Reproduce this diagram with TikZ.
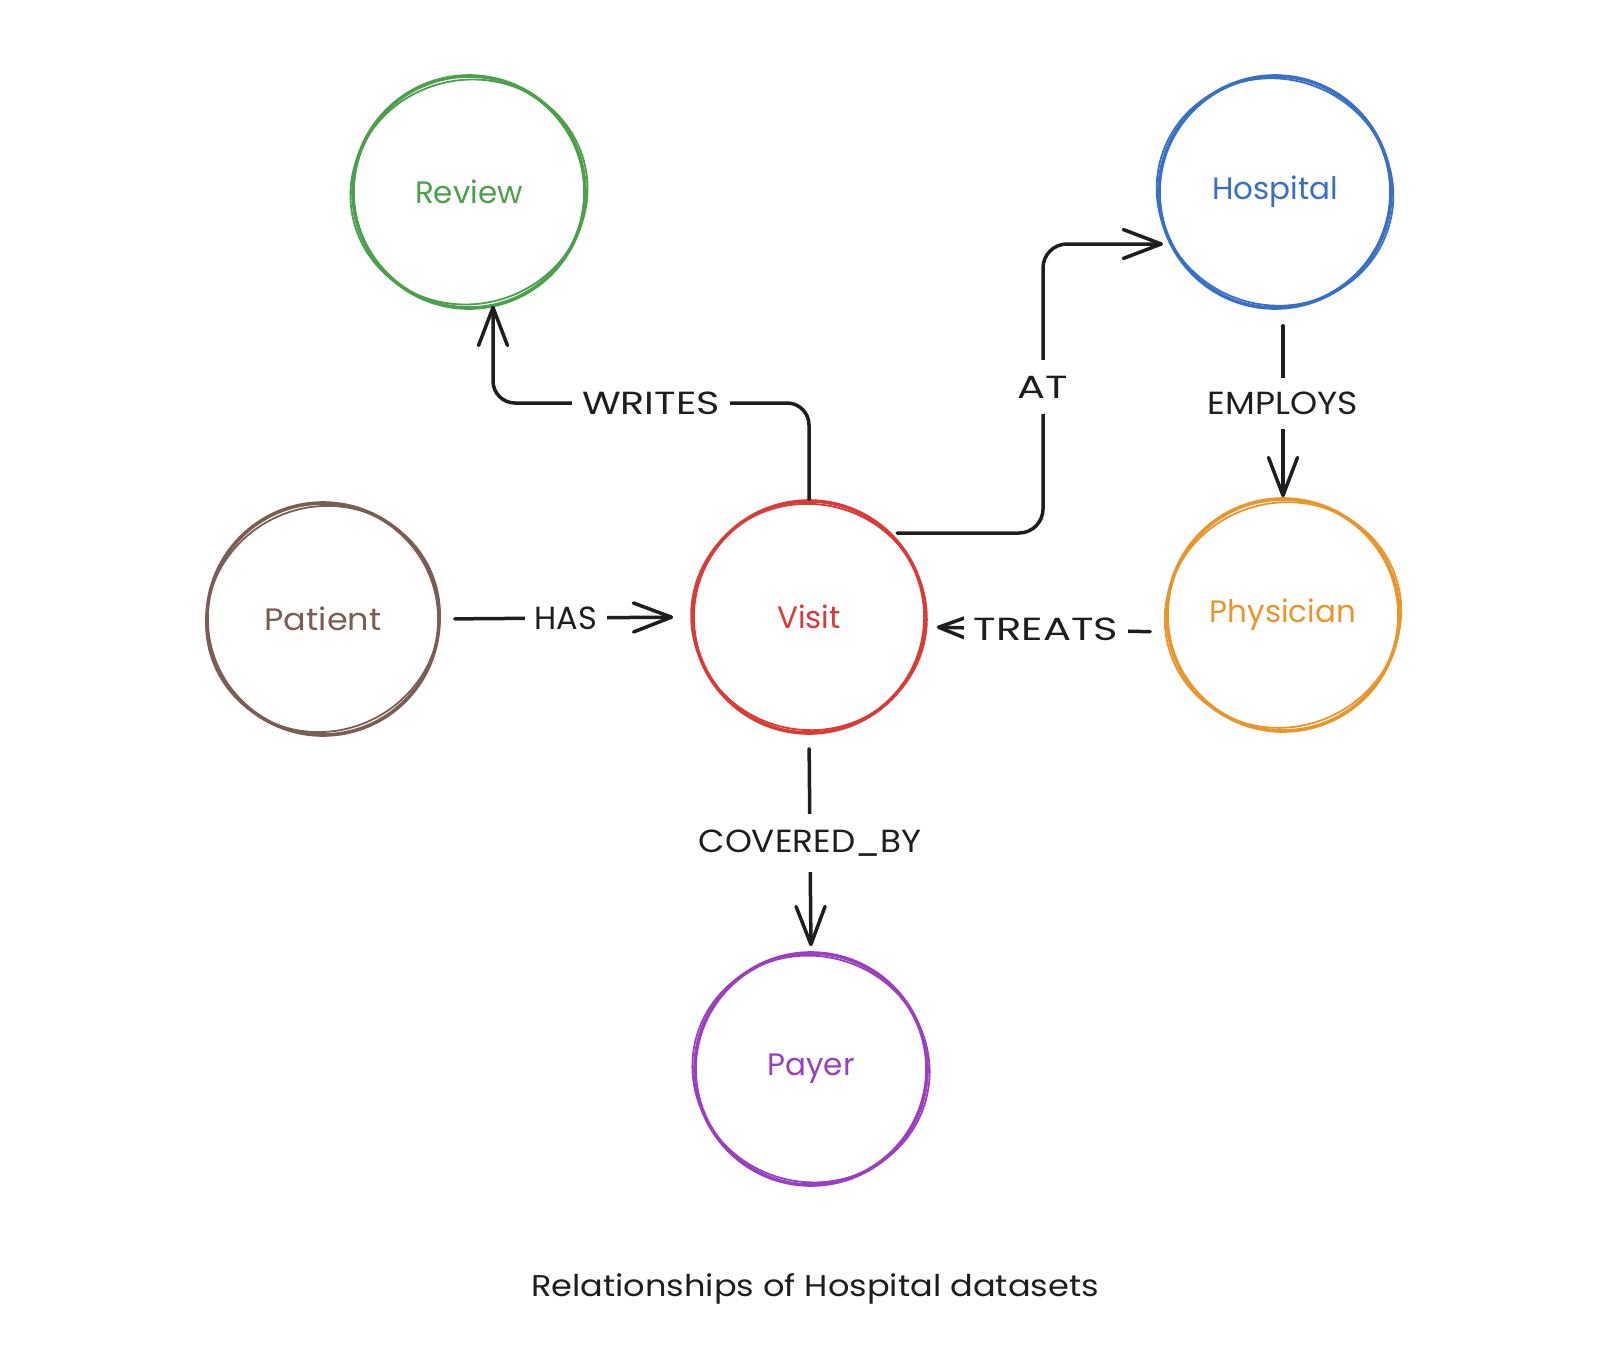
\documentclass[tikz,border=0pt]{standalone}
\usepackage{fontspec}
\setmainfont{Poppins}
\usetikzlibrary{arrows.meta,calc}
\definecolor{cgreen}{HTML}{4C9F4C}
\definecolor{cblue}{HTML}{3A70C4}
\definecolor{cbrown}{HTML}{7A5D54}
\definecolor{cred}{HTML}{D93B36}
\definecolor{corange}{HTML}{E8952C}
\definecolor{cpurple}{HTML}{9A3FC0}
\definecolor{ink}{HTML}{1E1E1E}
\begin{document}
\begin{tikzpicture}[x=1pt,y=-1pt,
  ent/.style={circle, draw=#1, text=#1, line width=3.6pt, minimum size=232pt, inner sep=0pt, font=\fontsize{31}{31}\selectfont},
  sk/.style={draw=#1, line width=1.8pt},
  conn/.style={draw=ink, line width=3.5pt, line cap=round, line join=round, -{Straight Barb[length=38pt,width=29pt,round]}},
  lbl/.style={fill=white, text=ink, inner xsep=10pt, inner ysep=9pt, font=\fontsize{32}{32}\selectfont},
]
\useasboundingbox (0,0) rectangle (1604,1358);
\fill[white] (0,0) rectangle (1604,1358);

% entities
\node[ent=cgreen]  (review)    at (469,192)  {Review};
\node[ent=cblue]   (hospital)  at (1275,192) {Hospital};
\node[ent=cbrown]  (patient)   at (323,619)  {\scalebox{1.08}[1]{Patient}};
\node[ent=cred]    (visit)     at (809,617)  {Visit};
\node[ent=corange] (physician) at (1283,615) {Physician};
\node[ent=cpurple] (payer)     at (811,1069) {Payer};

% sketchy second strokes
\draw[sk=cgreen,  shift={(review.center)},    rotate=15]  (0,0) ellipse (119 and 112);
\draw[sk=cblue,   shift={(hospital.center)},  rotate=-20] (0,0) ellipse (119 and 113);
\draw[sk=cbrown,  shift={(patient.center)},   rotate=25]  (0,0) ellipse (118 and 112);
\draw[sk=cred,    shift={(visit.center)},     rotate=-10] (0,0) ellipse (118 and 113);
\draw[sk=corange, shift={(physician.center)}, rotate=20]  (0,0) ellipse (119 and 112);
\draw[sk=cpurple, shift={(payer.center)},     rotate=-15] (0,0) ellipse (119 and 113);

% WRITES
\coordinate (w1) at (493,403);
\draw[conn, rounded corners=22pt, shorten >=-4pt] (visit.north) |- (w1) -- (review.south -| w1);
\node[lbl] (writes) at (651,403) {\scalebox{1.24}[1]{WRITES}};

% AT
\coordinate (a0) at (897,533);
\coordinate (a1) at (1043,244);
\coordinate (a2) at (1163,244);
\draw[conn, rounded corners=24pt] (a0) -| (a1) -- (a2);
\node[lbl, inner ysep=16pt] (at) at (1043,387) {\scalebox{1.3}[1]{AT}};

% EMPLOYS
\draw[conn, shorten <=16pt] (physician.north |- hospital.south) -- node[lbl, inner ysep=14pt] (employs) {\scalebox{1.08}[1]{EMPLOYS}} (physician.north);

% HAS
\draw[conn, shorten <=14pt, shorten >=18pt] (patient.east) -- node[lbl] (has) {HAS} (visit.west);

% TREATS
\draw[conn, shorten <=15pt, shorten >=10pt] ([yshift=-17pt]physician.west) -- node[lbl] (treats) {\scalebox{1.3}[1]{TREATS}} ([yshift=-10pt]visit.east);

% COVERED_BY
\draw[conn, shorten <=14pt, shorten >=5pt] (visit.south) -- node[lbl, inner ysep=16pt] (covered) {\scalebox{1.07}[1]{COVERED\_BY}} (payer.north);

% caption
\node[text=ink, font=\fontsize{30}{30}\selectfont] (caption) at (815,1289) {\scalebox{1.12}[1]{Relationships of Hospital datasets}};
\end{tikzpicture}
\end{document}
